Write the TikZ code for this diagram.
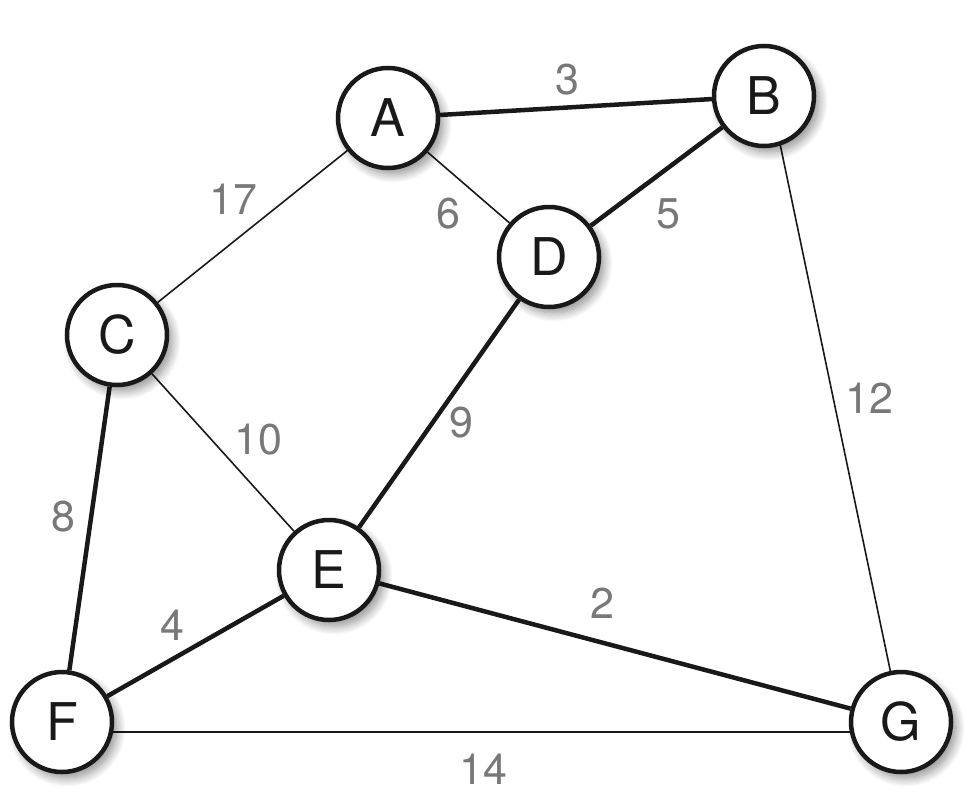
\documentclass[tikz,border=0pt]{standalone}
\usepackage{fontspec}
\setmainfont{TeX Gyre Heros}
\usetikzlibrary{shadows.blur,backgrounds}
\definecolor{lblgray}{RGB}{120,120,120}
\definecolor{ink}{RGB}{25,25,25}
\tikzset{
  vertex/.style={circle, draw=ink, line width=4.5pt, fill=white, minimum size=100pt, inner sep=0pt,
    font=\fontsize{52}{52}\selectfont, text=ink,
    blur shadow={shadow xshift=5pt, shadow yshift=-6pt, shadow blur steps=12, shadow blur radius=9pt, shadow opacity=45}},
  thickedge/.style={draw=ink, line width=4.5pt},
  thinedge/.style={draw=ink, line width=1.6pt},
  weight/.style={text=lblgray, font=\fontsize{43}{43}\selectfont, inner sep=0pt}
}
\begin{document}
\begin{tikzpicture}[x=1pt,y=-1pt]
\useasboundingbox (0,0) rectangle (976,795);
\node[vertex] (A) at (388,118) {A};
\node[vertex] (B) at (764,96) {B};
\node[vertex] (C) at (117,335) {C};
\node[vertex] (D) at (549,257) {D};
\node[vertex] (E) at (329,570) {E};
\node[vertex] (F) at (62,722) {F};
\node[vertex] (G) at (901,722) {G};
\begin{scope}[on background layer]
\draw[thickedge] (A) -- (B);
\draw[thickedge] (B) -- (D);
\draw[thickedge] (D) -- (E);
\draw[thickedge] (C) -- (F);
\draw[thickedge] (E) -- (F);
\draw[thickedge] (E) -- (G);
\draw[thinedge] (A) -- (C);
\draw[thinedge] (A) -- (D);
\draw[thinedge] (C) -- (E);
\draw[thinedge] ([xshift=6pt]B.center) -- (G.center);
\draw[thinedge] ([yshift=-10pt]F.center) -- ([yshift=-10pt]G.center);
\end{scope}
\node[weight] (w3) at (567,80) {3};
\node[weight] (w17) at (233,199) {17};
\node[weight] (w6) at (448,214) {6};
\node[weight] (w5) at (668,214) {5};
\node[weight] (w12) at (869,398) {12};
\node[weight] (w10) at (258,440) {10};
\node[weight] (w9) at (461,423) {9};
\node[weight] (w8) at (63,517) {8};
\node[weight] (w4) at (172,625) {4};
\node[weight] (w2) at (602,603) {2};
\node[weight] (w14) at (483,769) {14};
\end{tikzpicture}
\end{document}
